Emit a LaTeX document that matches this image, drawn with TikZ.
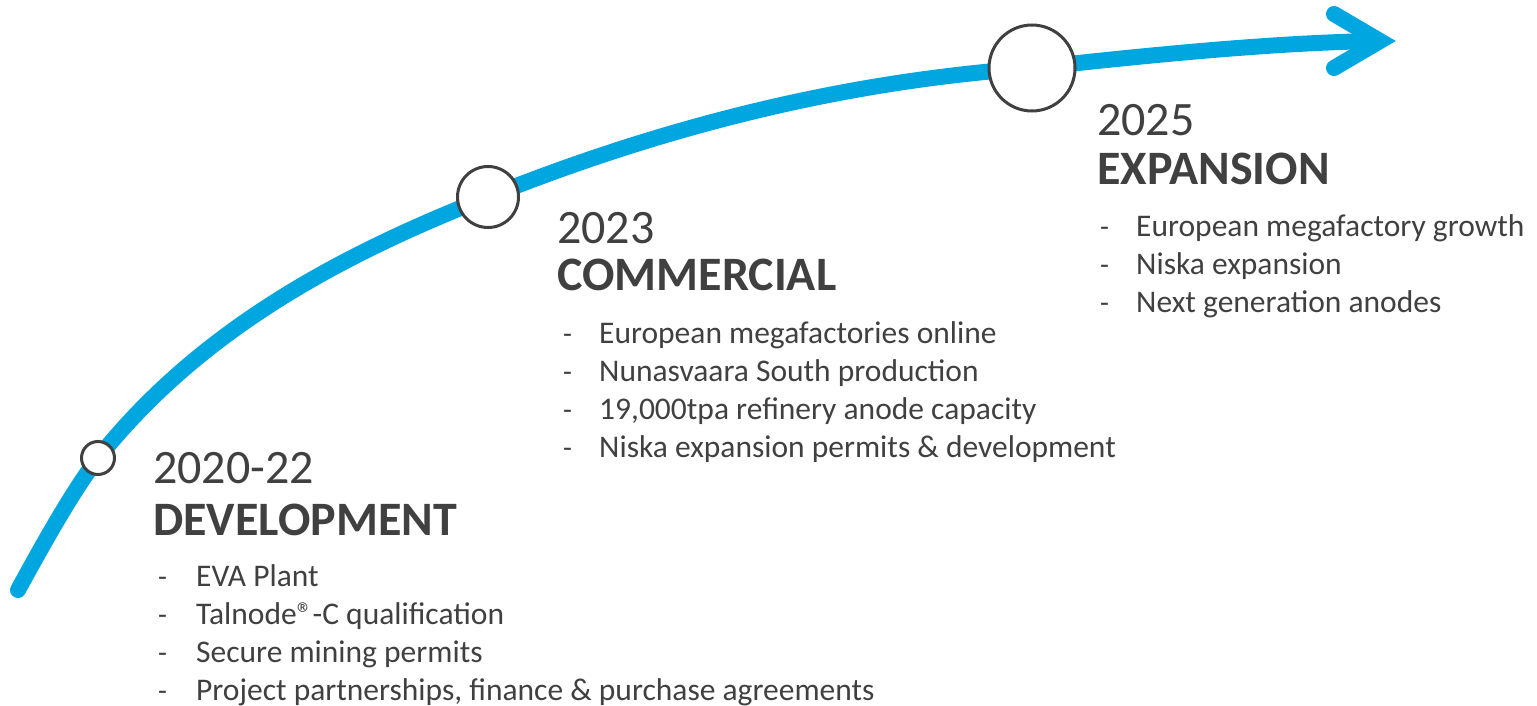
\documentclass[tikz,border=0pt]{standalone}
\usepackage{fontspec}
\setmainfont{Carlito}
\definecolor{tlblue}{HTML}{00A6E0}
\definecolor{tlgray}{HTML}{404040}
\begin{document}
\begin{tikzpicture}[x=1pt,y=-1pt,
  ring/.style={circle,draw=tlgray,line width=3pt,fill=white,inner sep=0pt},
  yeartxt/.style={anchor=base west,inner sep=0pt,text=tlgray,font=\fontsize{48}{52}\selectfont},
  headtxt/.style={anchor=base west,inner sep=0pt,text=tlgray,font=\fontsize{48}{52}\selectfont\bfseries},
  itemtxt/.style={anchor=base west,inner sep=0pt,text=tlgray,font=\fontsize{31.5}{38}\selectfont},
  dashtxt/.style={anchor=base west,inner sep=0pt,text=tlgray,font=\fontsize{29}{38}\selectfont}]
\useasboundingbox (0,0) rectangle (1537,706);
% timeline curve
\coordinate (s) at (18,590);
\coordinate (p1) at (98,458);
\coordinate (p2) at (488,197);
\coordinate (p3) at (1032,68);
\coordinate (e) at (1375,41);
\draw[tlblue,line width=16pt,line cap=round]
  (s) .. controls (40,550) and (70,495) .. (p1)
      .. controls (200,330) and (340,255) .. (p2)
      .. controls (680,120) and (860,80) .. (p3)
      .. controls (1150,55) and (1270,43) .. (e);
\draw[tlblue,line width=16pt,line cap=round,line join=miter]
  (1334,14) -- (1380,41) -- (1334,68);
% circles
\node[ring,minimum size=33pt] (c1) at (p1) {};
\node[ring,minimum size=61pt] (c2) at (p2) {};
\node[ring,minimum size=86pt] (c3) at (p3) {};
% 2020-22
\node[yeartxt] (y1) at (153,483) {2020-22};
\node[headtxt] (h1) at (153,535) {DEVELOPMENT};
\foreach \t [count=\i] in {EVA Plant,Talnode®-C qualification,Secure mining permits,{Project partnerships, finance \& purchase agreements}}{
  \node[dashtxt] (d1\i) at (158,{548+38*\i}) {-};
  \node[itemtxt] (i1\i) at (196,{548+38*\i}) {\t};
}
% 2023
\node[yeartxt] (y2) at (557,243) {2023};
\node[headtxt] (h2) at (557,290) {COMMERCIAL};
\foreach \t [count=\i] in {European megafactories online,Nunasvaara South production,{19,000tpa refinery anode capacity},Niska expansion permits \& development}{
  \node[dashtxt] (d2\i) at (563,{305+38*\i}) {-};
  \node[itemtxt] (i2\i) at (599,{305+38*\i}) {\t};
}
% 2025
\node[yeartxt] (y3) at (1097,136) {2025};
\node[headtxt] (h3) at (1097,184) {EXPANSION};
\foreach \t [count=\i] in {European megafactory growth,Niska expansion,Next generation anodes}{
  \node[dashtxt] (d3\i) at (1100,{198+38*\i}) {-};
  \node[itemtxt] (i3\i) at (1136,{198+38*\i}) {\t};
}
\end{tikzpicture}
\end{document}
